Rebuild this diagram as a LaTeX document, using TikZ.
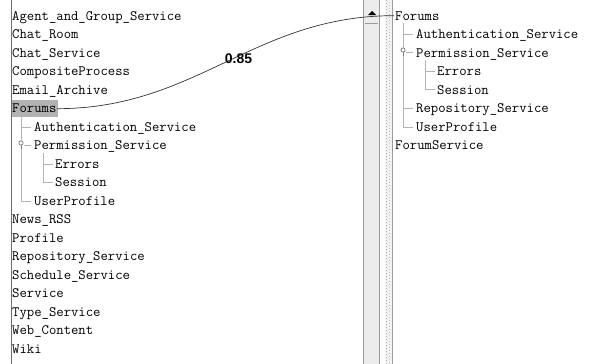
\documentclass[tikz,border=0pt]{standalone}
\usepackage{fontspec}
\newfontfamily\monofnt{Latin Modern Mono}
\newfontfamily\labfnt{Liberation Sans}
\definecolor{treeline}{HTML}{B4B4B4}
\definecolor{border}{HTML}{6E6E6E}
\definecolor{track}{HTML}{ECECEC}
\definecolor{trackedge}{HTML}{9A9A9A}
\definecolor{selbg}{HTML}{B2B2B2}
\tikzset{
  item/.style={anchor=base west, inner sep=0pt, font=\monofnt\fontsize{14.3}{16}\selectfont},
  tl/.style={draw=treeline, line width=0.8pt},
  conn/.style={draw=black!80, line width=0.7pt},
  score/.style={font=\labfnt\bfseries\fontsize{14}{16}\selectfont, inner sep=0pt}
}
\begin{document}
\begin{tikzpicture}[x=1pt,y=-1pt]
\useasboundingbox (0,0) rectangle (589,364);
\fill[white] (0,0) rectangle (589,364);
% left panel border
\draw[border, line width=0.9pt] (11,0) -- (11,364);
% selection highlight
\fill[selbg] (12,100) rectangle (57.5,117);
% left tree items
\node[item] (l0) at (12,20) {Agent\_and\_Group\_Service};
\node[item] (l1) at (12,38.5) {Chat\_Room};
\node[item] (l2) at (12,57) {Chat\_Service};
\node[item] (l3) at (12,75.5) {CompositeProcess};
\node[item] (l4) at (12,94) {Email\_Archive};
\node[item] (fl) at (12,112.5) {Forums};
\node[item] (l6) at (34,131) {Authentication\_Service};
\node[item] (l7) at (34,149.5) {Permission\_Service};
\node[item] (l8) at (55,168) {Errors};
\node[item] (l9) at (55,186.5) {Session};
\node[item] (l10) at (34,205) {UserProfile};
\node[item] (l11) at (12,223.5) {News\_RSS};
\node[item] (l12) at (12,242) {Profile};
\node[item] (l13) at (12,260.5) {Repository\_Service};
\node[item] (l14) at (12,279) {Schedule\_Service};
\node[item] (l15) at (12,297.5) {Service};
\node[item] (l16) at (12,316) {Type\_Service};
\node[item] (l17) at (12,334.5) {Web\_Content};
\node[item] (l18) at (12,353) {Wiki};
% left tree lines
\draw[tl] (21,117) -- (21,201) -- (31,201);
\draw[tl] (21,127) -- (31,127);
\draw[tl] (24,145) -- (31,145);
\draw[tl] (43,153) -- (43,182) -- (53,182);
\draw[tl] (43,164) -- (53,164);
\fill[white] (21,143) circle (2.6);
\draw[gray, line width=0.8pt] (21,143) circle (2.1);
\draw[gray, line width=0.8pt] (21,145.1) -- (21,149);
% scrollbar
\fill[track] (363,0) rectangle (380,364);
\draw[trackedge, line width=1.4pt] (363.7,0) -- (363.7,364);
\draw[trackedge, line width=1pt] (379.5,0) -- (379.5,364);
\draw[trackedge, line width=0.8pt] (365,23) -- (378,23);
\fill[black] (372,11) -- (376,15) -- (368,15) -- cycle;
% divider
\fill[white] (380,0) rectangle (385,364);
\fill[black!5] (385,0) rectangle (392,364);
\draw[black!30, line width=1pt, dash pattern=on 1pt off 2pt] (386.5,0) -- (386.5,364);
\draw[black!22, line width=1pt, dash pattern=on 1pt off 2pt, dash phase=1.5pt] (389.5,0) -- (389.5,364);
\draw[trackedge, line width=1pt] (392.5,0) -- (392.5,364);
% right tree items
\node[item] (fr) at (395,20) {Forums};
\node[item] (r1) at (416,38.5) {Authentication\_Service};
\node[item] (r2) at (416,57) {Permission\_Service};
\node[item] (r3) at (437,75.5) {Errors};
\node[item] (r4) at (437,94) {Session};
\node[item] (r5) at (416,112.5) {Repository\_Service};
\node[item] (r6) at (416,131) {UserProfile};
\node[item] (r7) at (395,149.5) {ForumService};
% right tree lines
\draw[tl] (403,23) -- (403,127) -- (413,127);
\draw[tl] (403,34) -- (413,34);
\draw[tl] (406,52) -- (413,52);
\draw[tl] (403,108) -- (413,108);
\draw[tl] (425,60) -- (425,89) -- (435,89);
\draw[tl] (425,71) -- (435,71);
\fill[white] (403,50) circle (2.6);
\draw[gray, line width=0.8pt] (403,50) circle (2.1);
\draw[gray, line width=0.8pt] (403,52.1) -- (403,56);
% connector
\draw[conn] ([xshift=0.5pt,yshift=-0.5pt]fl.east) .. controls +(140,0) and +(-140,0) .. ([xshift=-1pt]fr.west)
  node[pos=0.5, score, xshift=13pt, yshift=3pt] (sc) {0.85};
\end{tikzpicture}
\end{document}
